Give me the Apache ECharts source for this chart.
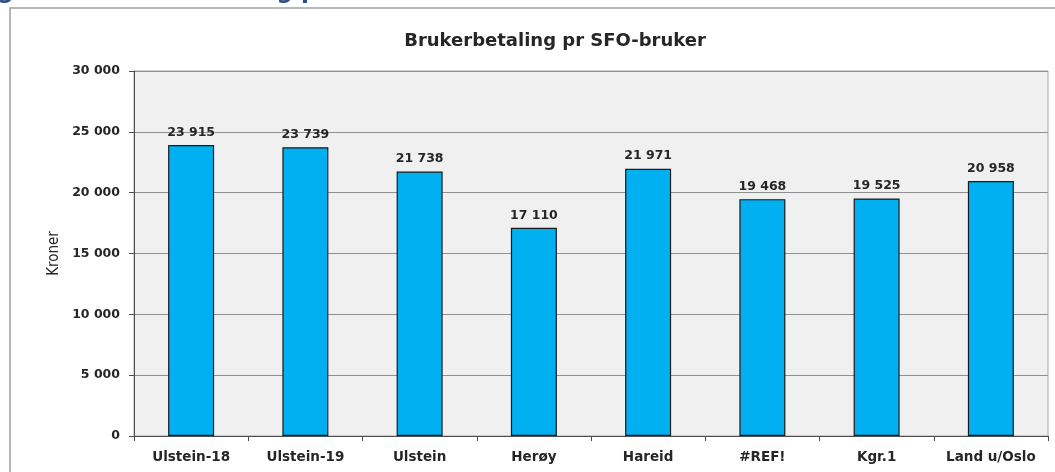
<!DOCTYPE html>
<html>
<head>
<meta charset="utf-8">
<script src="https://cdn.jsdelivr.net/npm/echarts@6/dist/echarts.min.js"></script>
<style>
html,body{margin:0;padding:0;background:#fff;}
#chart{width:1055px;height:472px;}
</style>
</head>
<body>
<div id="chart"></div>
<script>
const categories = ['Ulstein-18', 'Ulstein-19', 'Ulstein', 'Herøy', 'Hareid', '#REF!', 'Kgr.1', 'Land u/Oslo'];
const values = [23915, 23739, 21738, 17110, 21971, 19468, 19525, 20958];
const yTicks = [0, 5000, 10000, 15000, 20000, 25000, 30000];
const titleText = 'Brukerbetaling pr SFO-bruker';
const yAxisTitle = 'Kroner';
const captionText = 'Figur 23: Brukerbetaling pr SFO-bruker';

function fmt(v) {
  return String(v).replace(/\B(?=(\d{3})+(?!\d))/g, ' ');
}

const chart = echarts.init(document.getElementById('chart'), null, {renderer: 'canvas'});
const textColor = '#262626';
const fontMain = '"DejaVu Sans", sans-serif';

chart.setOption({
  animation: false,
  backgroundColor: '#ffffff',
  title: {
    text: titleText,
    left: 550,
    top: 27,
    textAlign: 'center',
    textStyle: {fontFamily: fontMain, fontWeight: 'bold', fontSize: 18, color: textColor}
  },
  graphic: [
    {
      type: 'rect',
      shape: {x: 10, y: 8, width: 1100, height: 520},
      style: {fill: 'none', stroke: '#a3a3a3', lineWidth: 1.6},
      silent: true
    },
    {
      type: 'text',
      left: -26,
      top: -19,
      style: {text: captionText, fill: '#2b4c8c', font: 'bold 23px "DejaVu Sans", sans-serif'},
      silent: true
    }
  ],
  grid: {
    left: 134,
    right: 7,
    top: 71,
    bottom: 36,
    show: true,
    backgroundColor: '#f0f0f0',
    borderColor: '#a6a6a6',
    borderWidth: 1
  },
  xAxis: {
    type: 'category',
    data: categories,
    boundaryGap: true,
    axisLine: {lineStyle: {color: '#4d4d4d', width: 1}},
    axisTick: {show: true, alignWithLabel: false, length: 5, lineStyle: {color: '#4d4d4d'}},
    axisLabel: {
      interval: 0,
      margin: 14,
      fontFamily: fontMain,
      fontWeight: 'bold',
      fontSize: 13.5,
      color: textColor
    }
  },
  yAxis: {
    type: 'value',
    min: yTicks[0],
    max: yTicks[yTicks.length - 1],
    interval: yTicks[1] - yTicks[0],
    name: yAxisTitle,
    nameLocation: 'middle',
    nameRotate: 90,
    nameGap: 64,
    nameTextStyle: {fontFamily: '"DejaVu Sans Condensed", "Liberation Sans Narrow", sans-serif', fontSize: 15, color: textColor},
    axisLine: {show: true, lineStyle: {color: '#4d4d4d', width: 1}},
    axisTick: {show: true, length: 5, lineStyle: {color: '#4d4d4d'}},
    splitLine: {show: true, lineStyle: {color: '#8f8f8f', width: 1}},
    axisLabel: {
      margin: 14,
      fontFamily: fontMain,
      fontWeight: 'bold',
      fontSize: 12.5,
      color: textColor,
      formatter: v => fmt(v)
    }
  },
  series: [{
    type: 'bar',
    data: values,
    barWidth: 46,
    itemStyle: {color: '#00b0f0', borderColor: '#1a1a1a', borderWidth: 1.2},
    label: {
      show: true,
      position: 'top',
      distance: 6,
      fontFamily: fontMain,
      fontWeight: 'bold',
      fontSize: 12.5,
      color: textColor,
      formatter: p => fmt(p.value)
    }
  }]
});
</script>
</body>
</html>
